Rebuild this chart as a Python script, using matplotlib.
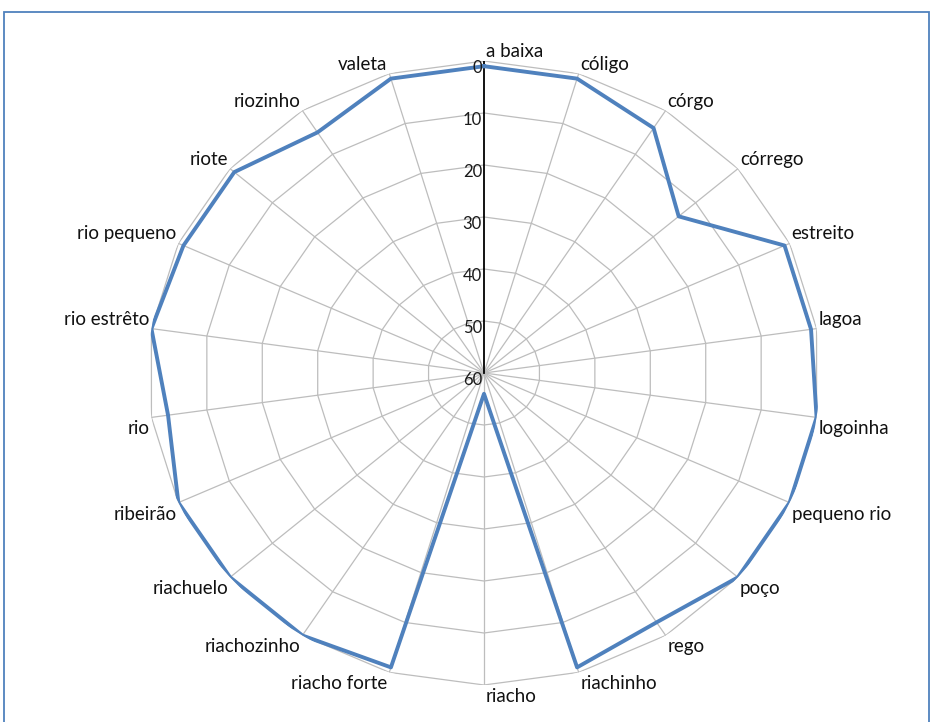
import numpy as np
import matplotlib.pyplot as plt
from matplotlib.transforms import offset_copy
from matplotlib.patches import Rectangle

categories = ['a baixa', 'cóligo', 'córgo', 'córrego', 'estreito', 'lagoa', 'logoinha',
              'pequeno rio', 'poço', 'rego', 'riachinho', 'riacho', 'riacho forte',
              'riachozinho', 'riachuelo', 'ribeirão', 'rio', 'rio estrêto', 'rio pequeno',
              'riote', 'riozinho', 'valeta']
values = [1, 1, 4, 14, 1, 1, 0, 0, 0, 3, 1, 56, 1, 0, 0, 0, 3, 0, 1, 1, 5, 1]
levels = [0, 10, 20, 30, 40, 50, 60]

n = len(categories)
angles = np.linspace(0, 2 * np.pi, n, endpoint=False)
ring_angles = np.append(angles, angles[0])
ring_values = np.append(values, values[0])

fig = plt.figure(figsize=(9.33, 7.22), dpi=100)
ax = fig.add_axes([148 / 933, 37 / 722, 672 / 933, 624 / 722], projection='polar')
ax.set_aspect('auto')
ax.set_theta_zero_location('N')
ax.set_theta_direction(-1)
ax.set_ylim(60, 0)
ax.grid(False)
ax.spines['polar'].set_visible(False)
ax.set_xticks([])
ax.set_yticks([])

grid_color = '#bdbdbd'
for lv in levels[:-1]:
    ax.plot(ring_angles, [lv] * (n + 1), color=grid_color, lw=0.9, zorder=1)
for a in angles[1:]:
    ax.plot([a, a], [levels[-1], levels[0]], color=grid_color, lw=0.9, zorder=1)
ax.plot([0, 0], [levels[-1], levels[0]], color='black', lw=1.3, zorder=2)

ax.plot(ring_angles, ring_values, color='#4f81bd', lw=2.8, zorder=3)

for lv in levels:
    tr = offset_copy(ax.transData, fig=fig, x=-2, y=-7, units='dots')
    ax.text(0, lv, str(lv), ha='right', va='center', fontsize=12, family='Lato',
            color='#1a1a1a', transform=tr)

for a, name in zip(angles, categories):
    ha = 'left' if np.sin(a) > -1e-6 else 'right'
    if np.cos(a) > 1e-6:
        va, dy = 'bottom', 1
    else:
        va, dy = 'top', -3
    tr = offset_copy(ax.transData, fig=fig, x=2 if ha == 'left' else -2, y=dy, units='dots')
    ax.text(a, 0, name, ha=ha, va=va, fontsize=13.5, family='Lato', color='#111111',
            transform=tr)

fig.patches.append(Rectangle((4 / 933, -0.02), 925 / 933, 1.02 - 12 / 722,
                             transform=fig.transFigure, fill=False,
                             edgecolor='#4f81bd', lw=1.3))

fig.savefig('out.png', dpi=100)
